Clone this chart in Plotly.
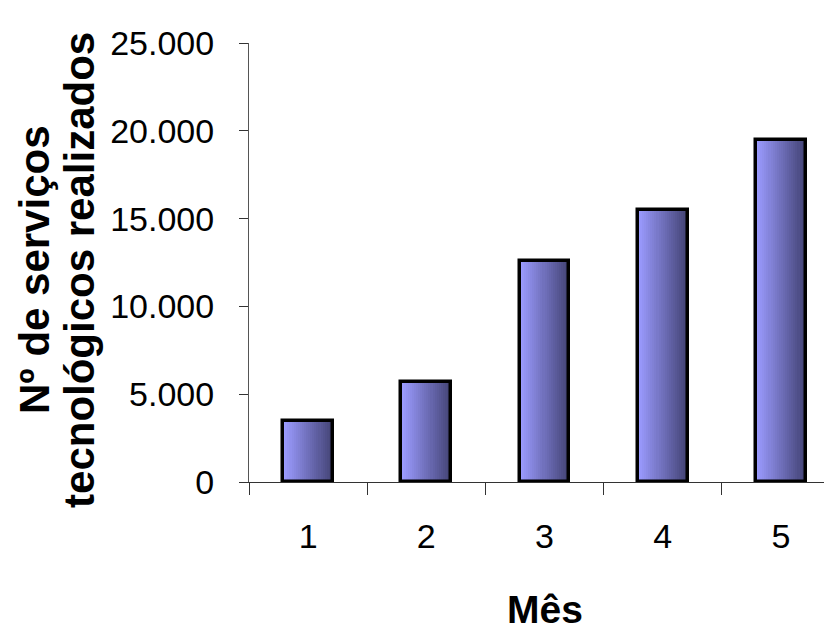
import plotly.graph_objects as go

months = ["1", "2", "3", "4", "5"]
services = [3500, 5700, 12600, 15500, 19500]
y_ticks = [0, 5000, 10000, 15000, 20000, 25000]

x_title = "Mês"
y_title_lines = ["Nº de serviços", "tecnológicos realizados"]

BAR_W = 0.42
N_SLICES = 24
light = (155, 155, 255)
dark = (68, 68, 118)

fig = go.Figure()
sw = BAR_W / N_SLICES
for k in range(N_SLICES):
    t = k / (N_SLICES - 1)
    c = tuple(round(light[i] + (dark[i] - light[i]) * t) for i in range(3))
    fig.add_trace(go.Bar(
        x=months, y=services,
        width=sw * 1.6 if k < N_SLICES - 1 else sw,
        offset=-BAR_W / 2 + k * sw,
        marker=dict(color="rgb(%d,%d,%d)" % c, line=dict(width=0)),
        showlegend=False, hoverinfo="skip",
    ))
# outline
fig.add_trace(go.Bar(
    x=months, y=services, width=BAR_W, offset=-BAR_W / 2,
    marker=dict(color="rgba(0,0,0,0)", line=dict(color="black", width=3.5)),
    showlegend=False,
))

tick_font = dict(family="Liberation Sans, Arial", size=34, color="black")
title_font = dict(family="Liberation Sans, Arial", size=42, color="black", weight="bold")

fig.update_layout(
    width=832, height=633,
    margin=dict(l=241, r=0, t=35, b=159, autoexpand=False),
    plot_bgcolor="white", paper_bgcolor="white",
    barmode="overlay",
    separators=",.",
    bargap=0,
    xaxis=dict(
        type="category", range=[-0.5, 4.5], automargin=False,
        showline=True, linecolor="#333", linewidth=1,
        ticks="outside", ticklen=12, tickcolor="#333", tickwidth=1,
        tickson="boundaries",
        tickfont=tick_font, ticklabelstandoff=24,
        showgrid=False, zeroline=False,
    ),
    yaxis=dict(
        range=[0, 25000], tickvals=y_ticks, tickformat=",d", automargin=False,
        showline=True, linecolor="#555", linewidth=1,
        ticks="outside", ticklen=9, tickcolor="#333", tickwidth=1,
        tickfont=tick_font, ticklabelstandoff=18,
        showgrid=False, zeroline=False,
    ),
    annotations=[
        dict(text=y_title_lines[0], textangle=-90, xref="paper", yref="paper",
             x=0, y=0.483, xshift=-214, xanchor="center", yanchor="middle",
             showarrow=False, font=title_font),
        dict(text=y_title_lines[1], textangle=-90, xref="paper", yref="paper",
             x=0, y=0.483, xshift=-169, xanchor="center", yanchor="middle",
             showarrow=False, font=title_font),
        dict(text=x_title, xref="paper", yref="paper", x=0.5, y=-0.29,
             xanchor="center", yanchor="middle", showarrow=False,
             font=dict(family="Liberation Sans, Arial", size=39, color="black", weight="bold")),
    ],
)

fig.write_html("out.html")
